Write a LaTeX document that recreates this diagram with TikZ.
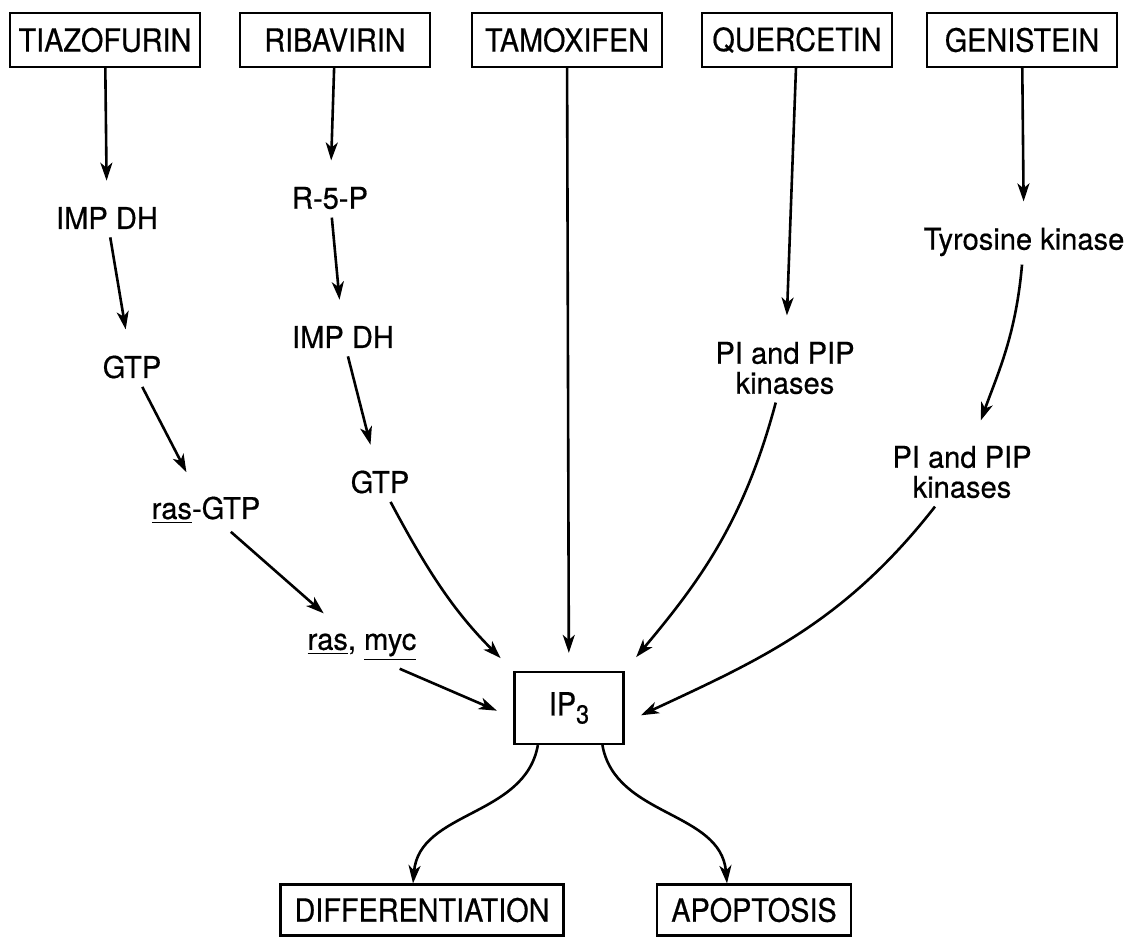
\documentclass[tikz,border=0pt]{standalone}
\usepackage{fontspec}
\setmainfont{TeX Gyre Heros}[FakeStretch=0.9, FakeBold=0.5]
\newfontfamily\interfont{TeX Gyre Heros}[FakeStretch=0.97, FakeBold=0.5]
\usetikzlibrary{arrows.meta, positioning}

\tikzstyle{drug} = [rectangle, minimum width=95pt, minimum height=27pt, text centered, draw=black, line width=1.1pt]
\tikzstyle{result} = [rectangle, minimum height=25.5pt, inner xsep=7pt, text centered, draw=black, line width=1.1pt]
\tikzstyle{inter} = [inner sep=4pt, align=center, font=\interfont\fontsize{15pt}{15pt}\selectfont]
\tikzstyle{arrow} = [line width=1.3pt, -{Stealth[length=9pt,width=6pt,inset=2.5pt]}, shorten >=9pt]

\begin{document}
\begin{tikzpicture}[x=0.5pt, y=0.5pt, node distance=115pt, font=\fontsize{16pt}{18pt}\selectfont]
\useasboundingbox (0,0) rectangle (1130,-938);

% Drugs
\node (tiazo) [drug] at (105,-40) {TIAZOFURIN};
\node (riba) [drug, right of=tiazo] {RIBAVIRIN};
\node (tamox) [drug, right of=riba, xshift=1pt] {TAMOXIFEN};
\node (querc) [drug, right of=tamox] {QUERCETIN};
\node (genis) [drug, right of=querc, xshift=-2.5pt] {GENISTEIN};

% Intermediates
\node (imp1) [inter] at (107,-218) {IMP DH};
\node (gtp1) [inter] at (132,-367) {GTP};
\node (rasgtp) [inter] at (206,-510) {\underline{ras}-GTP};
\node (rasmyc) [inter] at (362,-647) {\underline{ras}, \underline{myc}};
\node (r5p) [inter] at (330,-198) {R-5-P};
\node (imp2) [inter] at (343,-337) {IMP DH};
\node (gtp2) [inter] at (380,-482) {GTP};
\node (piq) [inter] at (785,-368) {PI and PIP\\kinases};
\node (tyr) [inter] at (1024,-242) {Tyrosine kinase};
\node (pig) [inter] at (962,-472) {PI and PIP\\kinases};

% IP3 and outcomes
\node (ip3) [drug, minimum width=54.5pt, minimum height=36pt] at (569,-708) {IP\raisebox{-4pt}{\fontsize{13pt}{13pt}\selectfont 3}};
\node (diff) [result, minimum width=140pt] at (422,-910) {DIFFERENTIATION};
\node (apop) [result, minimum width=97pt] at (754,-910) {APOPTOSIS};

\draw[arrow] (tiazo) -- (imp1);
\draw[arrow] (imp1) -- (gtp1);
\draw[arrow] (gtp1) -- (rasgtp);
\draw[arrow] (rasgtp) -- (rasmyc);
\draw[arrow] (rasmyc.-30) -- (ip3.190);
\draw[arrow] (riba) -- (r5p);
\draw[arrow] (r5p) -- (imp2);
\draw[arrow] (imp2) -- (gtp2);
\draw[arrow] (gtp2) to[out=-62, in=135] (ip3.north west);
\draw[arrow] (tamox) -- (ip3);
\draw[arrow] (querc) -- (piq);
\draw[arrow] (piq) to[out=-105, in=50] (ip3.north east);
\draw[arrow] (genis) -- (tyr);
\draw[arrow] (tyr) to[out=-95, in=70] (pig);
\draw[arrow] (pig) to[out=-128, in=25] (ip3.-15);
\draw[arrow, shorten >=0pt] (ip3.-130) to[out=-100, in=85] ([xshift=-4.5pt]diff.north);
\draw[arrow, shorten >=0pt] (ip3.-48) to[out=-80, in=95] ([xshift=-13.5pt]apop.north);

\end{tikzpicture}
\end{document}
